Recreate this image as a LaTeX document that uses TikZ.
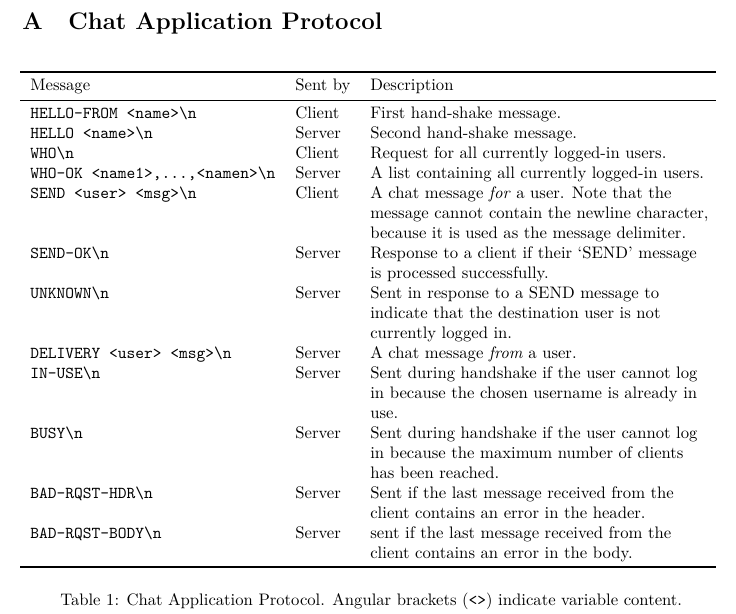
\documentclass[tikz,border=0pt]{standalone}
\begin{document}
\begin{tikzpicture}[x=0.6pt,y=-0.6pt,
  cell/.style={anchor=base west,inner sep=0pt},
  msg/.style={cell,font=\ttfamily},
  heavy/.style={line width=0.8pt},
  light/.style={line width=0.45pt}]
\useasboundingbox (0,0) rectangle (736,613);
\node[cell,font=\Large\bfseries] (ta) at (22,29) {A};
\node[cell,font=\Large\bfseries] (tt) at (68,29) {Chat Application Protocol};
\coordinate (r1a) at (20,72); \coordinate (r1b) at (716,72);
\coordinate (r2a) at (20,100); \coordinate (r2b) at (716,100);
\coordinate (r3a) at (20,567); \coordinate (r3b) at (716,567);
\draw[heavy] (r1a) -- (r1b);
\draw[light] (r2a) -- (r2b);
\draw[heavy] (r3a) -- (r3b);
\node[cell] (h1) at (30,90) {Message};
\node[cell] (h2) at (295,90) {Sent by};
\node[cell] (h3) at (370,90) {Description};
% rows
\node[msg] (m1) at (30,118) {HELLO-FROM <name>\textbackslash n};
\node[cell] (s1) at (295,118) {Client};
\node[cell] (d1) at (370,118) {First hand-shake message.};
\node[msg] (m2) at (30,138) {HELLO <name>\textbackslash n};
\node[cell] (s2) at (295,138) {Server};
\node[cell] (d2) at (370,138) {Second hand-shake message.};
\node[msg] (m3) at (30,158) {WHO\textbackslash n};
\node[cell] (s3) at (295,158) {Client};
\node[cell] (d3) at (370,158) {Request for all currently logged-in users.};
\node[msg] (m4) at (30,178) {WHO-OK <name1>,...,<namen>\textbackslash n};
\node[cell] (s4) at (295,178) {Server};
\node[cell] (d4) at (370,178) {A list containing all currently logged-in users.};
\node[msg] (m5) at (30,198) {SEND <user> <msg>\textbackslash n};
\node[cell] (s5) at (295,198) {Client};
\node[cell] (d5a) at (370,198) {A chat message \emph{for} a user. Note that the};
\node[cell] (d5b) at (370,218) {message cannot contain the newline character,};
\node[cell] (d5c) at (370,238) {because it is used as the message delimiter.};
\node[msg] (m6) at (30,258) {SEND-OK\textbackslash n};
\node[cell] (s6) at (295,258) {Server};
\node[cell] (d6a) at (370,258) {Response to a client if their `SEND' message};
\node[cell] (d6b) at (370,278) {is processed successfully.};
\node[msg] (m7) at (30,298) {UNKNOWN\textbackslash n};
\node[cell] (s7) at (295,298) {Server};
\node[cell] (d7a) at (370,298) {Sent in response to a SEND message to};
\node[cell] (d7b) at (370,318) {indicate that the destination user is not};
\node[cell] (d7c) at (370,338) {currently logged in.};
\node[msg] (m8) at (30,358) {DELIVERY <user> <msg>\textbackslash n};
\node[cell] (s8) at (295,358) {Server};
\node[cell] (d8) at (370,358) {A chat message \emph{from} a user.};
\node[msg] (m9) at (30,378) {IN-USE\textbackslash n};
\node[cell] (s9) at (295,378) {Server};
\node[cell] (d9a) at (370,378) {Sent during handshake if the user cannot log};
\node[cell] (d9b) at (370,398) {in because the chosen username is already in};
\node[cell] (d9c) at (370,418) {use.};
\node[msg] (m10) at (30,438) {BUSY\textbackslash n};
\node[cell] (s10) at (295,438) {Server};
\node[cell] (d10a) at (370,438) {Sent during handshake if the user cannot log};
\node[cell] (d10b) at (370,458) {in because the maximum number of clients};
\node[cell] (d10c) at (370,478) {has been reached.};
\node[msg] (m11) at (30,498) {BAD-RQST-HDR\textbackslash n};
\node[cell] (s11) at (295,498) {Server};
\node[cell] (d11a) at (370,498) {Sent if the last message received from the};
\node[cell] (d11b) at (370,518) {client contains an error in the header.};
\node[msg] (m12) at (30,538) {BAD-RQST-BODY\textbackslash n};
\node[cell] (s12) at (295,538) {Server};
\node[cell] (d12a) at (370,538) {sent if the last message received from the};
\node[cell] (d12b) at (370,558) {client contains an error in the body.};
\node[cell] (cap) at (60,605) {Table 1: Chat Application Protocol. Angular brackets ({\ttfamily<>}) indicate variable content.};
\end{tikzpicture}
\end{document}
